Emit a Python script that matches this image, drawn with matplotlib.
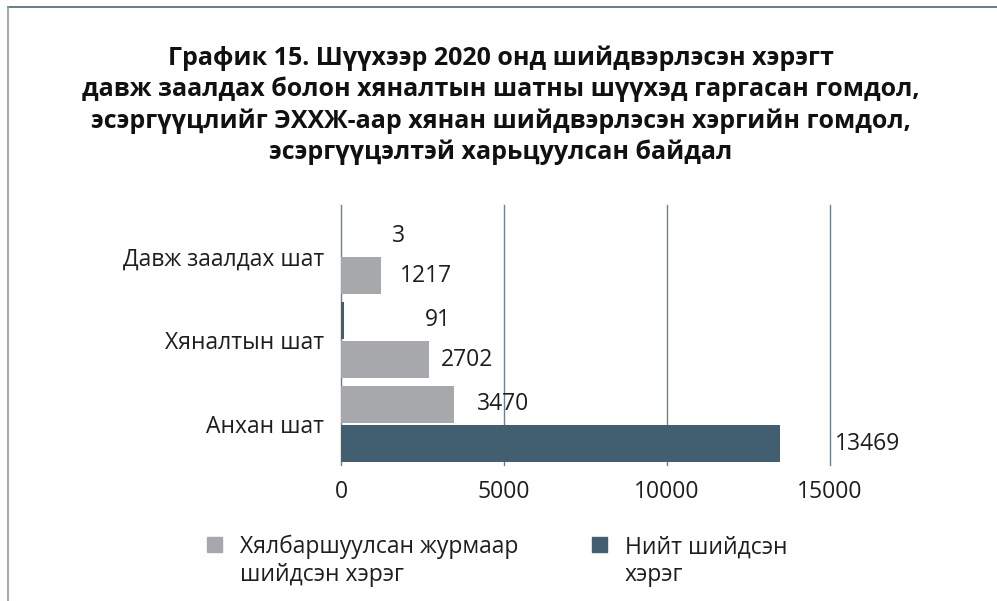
import numpy as np
import matplotlib.pyplot as plt
from matplotlib.lines import Line2D
from matplotlib.patches import Rectangle

plt.rcParams['font.family'] = ['Open Sans', 'DejaVu Sans']

# Data
categories = ["Давж заалдах шат", "Хяналтын шат", "Анхан шат"]
simplified = [1217, 2702, 3470]      # Хялбаршуулсан журмаар шийдсэн хэрэг
total = [3, 91, 13469]               # Нийт шийдсэн хэрэг
series_names = ["Хялбаршуулсан журмаар\nшийдсэн хэрэг", "Нийт шийдсэн\nхэрэг"]
xticks = [0, 5000, 10000, 15000]

title = ("График 15. Шүүхээр 2020 онд шийдвэрлэсэн хэрэгт\n"
         "давж заалдах болон хяналтын шатны шүүхэд гаргасан гомдол,\n"
         "эсэргүүцлийг ЭХХЖ-аар хянан шийдвэрлэсэн хэргийн гомдол,\n"
         "эсэргүүцэлтэй харьцуулсан байдал")

gray = "#a7a8ab"
dark = "#415f70"
grid_col = "#6a8290"
txt = "#1e1e1e"

# in the original the gray bar sits on top only for the last category
gray_on_top = [False, False, True]
# label nudges (pixels) as placed in the original
gray_dx = [19, 12, 23]
total_dx = [51, 81, 55]

fig = plt.figure(figsize=(9.97, 6.01), dpi=100)
ax = fig.add_axes([0.342, 0.226, 0.49, 0.433])

y = np.arange(len(categories))
off = 0.235
h = 0.44
sgn = np.array([-1 if t else 1 for t in gray_on_top])
y_gray = y + sgn * off
y_total = y - sgn * off

ax.barh(y_gray, simplified, height=h, color=gray, zorder=3)
ax.barh(y_total, total, height=h, color=dark, zorder=3)

for yy, v, dx in zip(y_gray, simplified, gray_dx):
    ax.annotate(str(v), (v, yy), xytext=(dx, 0), textcoords="offset pixels",
                ha="left", va="center", fontsize=16.5, color=txt,
                annotation_clip=False, zorder=4)
for yy, v, dx in zip(y_total, total, total_dx):
    ax.annotate(str(v), (v, yy), xytext=(dx, 0), textcoords="offset pixels",
                ha="left", va="center", fontsize=16.5, color=txt,
                annotation_clip=False, zorder=4)

ax.set_xlim(0, 15000)
ax.set_ylim(2.49, -0.61)
ax.set_xticks(xticks)
ax.set_xticklabels([str(t) for t in xticks], fontsize=16.5, color=txt)
ax.set_yticks(y)
ax.set_yticklabels(categories, fontsize=16.5, color=txt)
ax.tick_params(length=0, pad=12)
ax.tick_params(axis="x", pad=11)
for s in ax.spines.values():
    s.set_visible(False)
ax.grid(axis="x", color=grid_col, linewidth=1.0, zorder=0, clip_on=False)
ax.grid(axis="y", visible=False)
for gl in ax.get_xgridlines():
    gl.set_clip_on(False)

fig.text(0.502, 0.825, title, ha="center", va="center", fontsize=18,
         fontweight="bold", linespacing=1.3, color="#111111")

# legend: square marker aligned with the first text line, as in the source
leg_x = [0.2076, 0.5938]
for lx, c, name in zip(leg_x, (gray, dark), series_names):
    fig.add_artist(Rectangle((lx, 0.0815), 0.015, 0.025, color=c,
                             transform=fig.transFigure))
    fig.text(lx + 0.033, 0.0666, name, ha="left", va="center", fontsize=16.5,
             color=txt, linespacing=1.2)

# frame lines at top and left like the source image
fig.add_artist(Line2D([0.008, 1.0], [0.988, 0.988], color="#4a6878", linewidth=1.2))
fig.add_artist(Line2D([0.008, 0.008], [0.0, 0.988], color="#8a9aa6", linewidth=1.2))

fig.savefig("out.png", dpi=100)
